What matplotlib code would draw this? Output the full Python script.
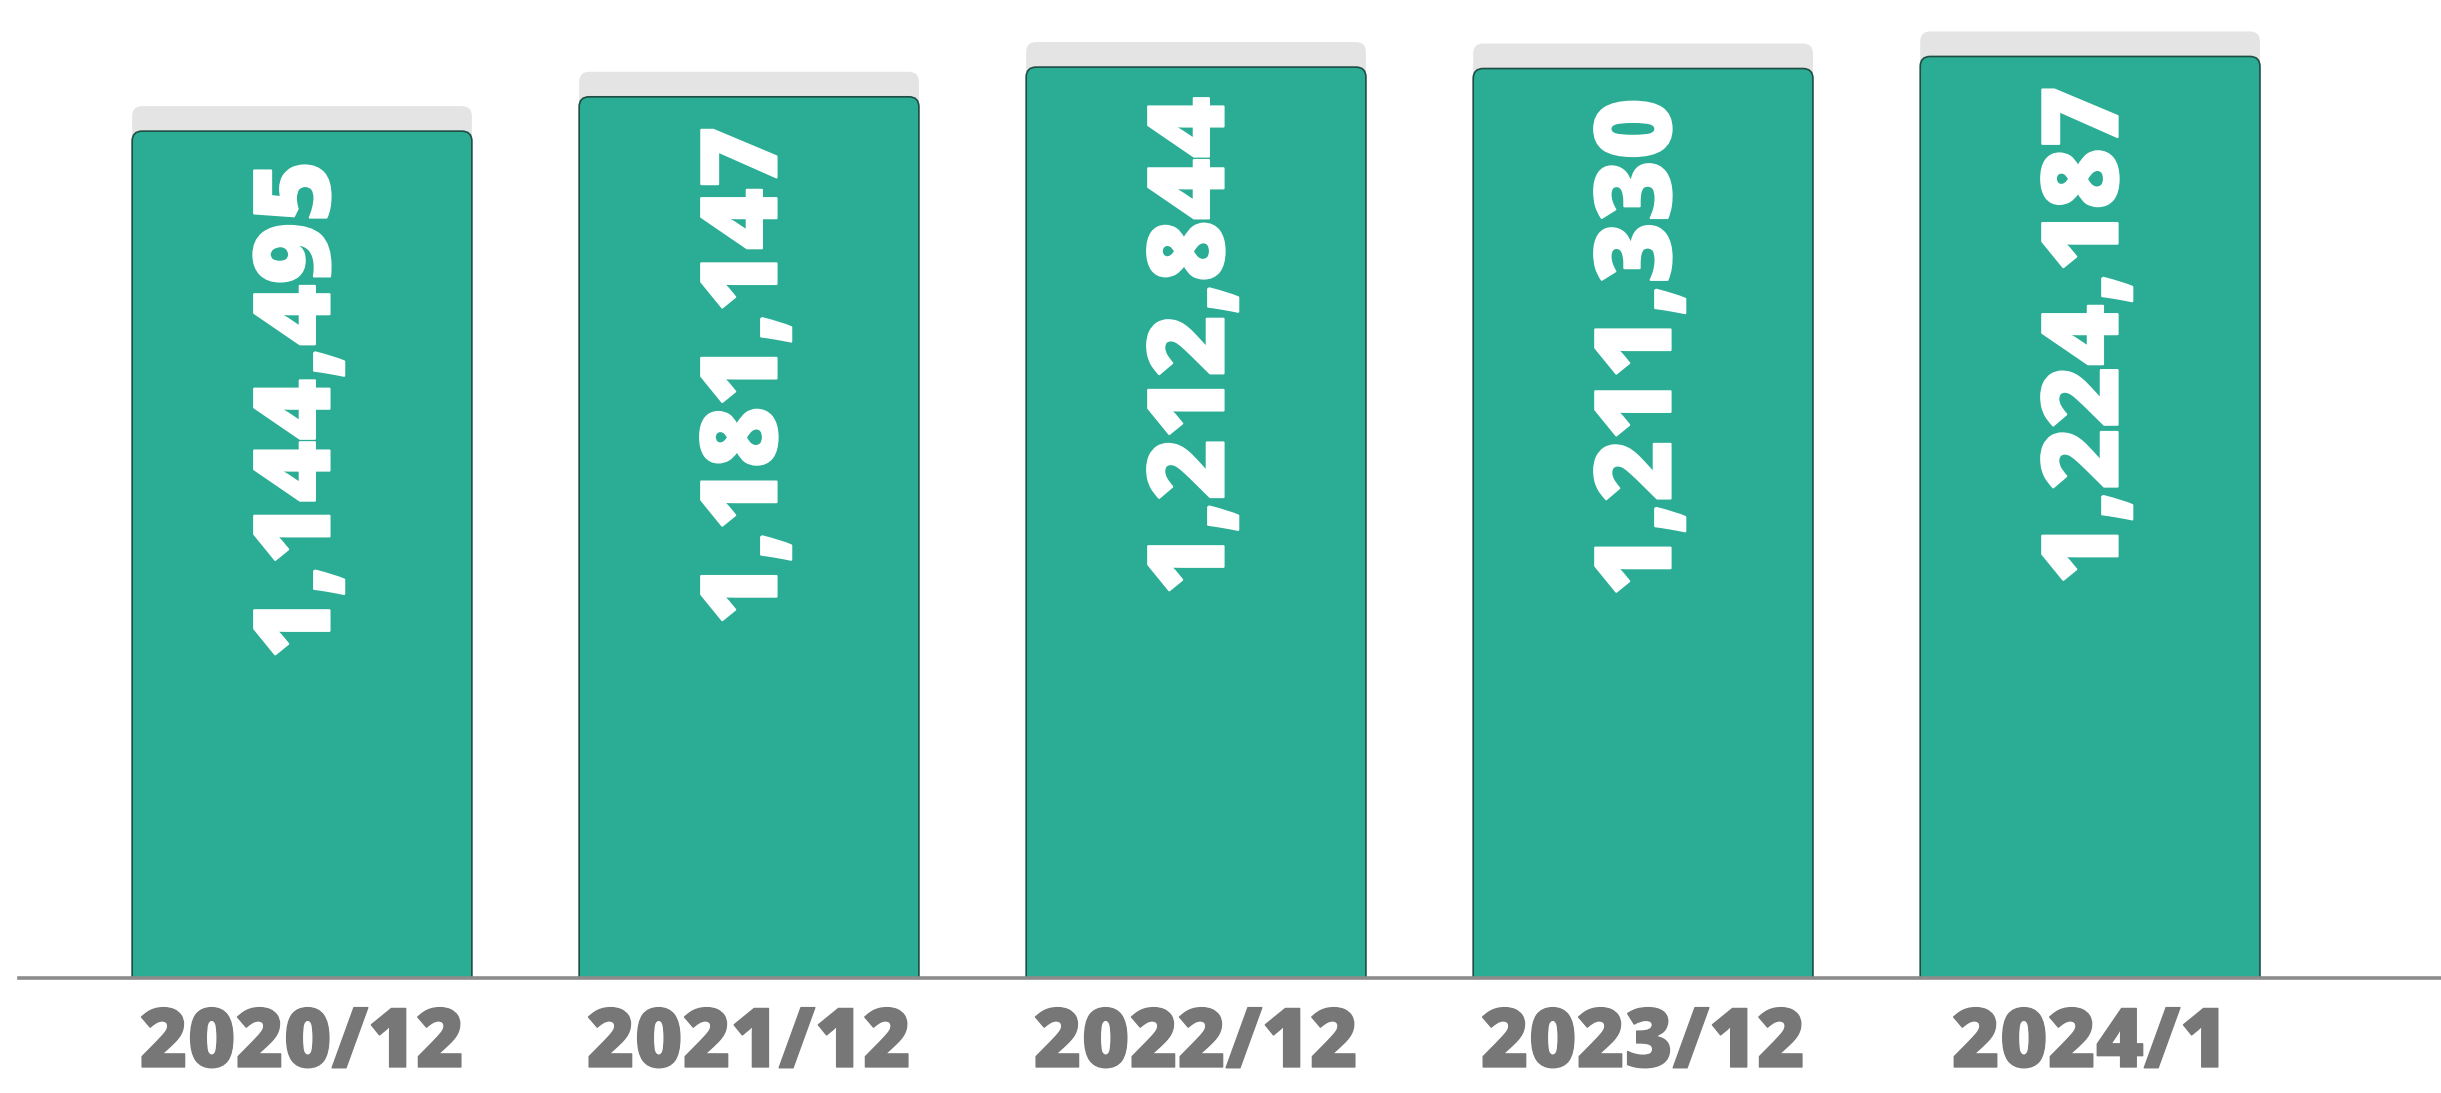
import matplotlib
matplotlib.use("Agg")
import matplotlib.pyplot as plt
import matplotlib.patheffects as pe
from matplotlib.patches import FancyBboxPatch
from matplotlib.transforms import ScaledTranslation
import numpy as np

# ---- data ----
categories = ["2020/12", "2021/12", "2022/12", "2023/12", "2024/1"]
values = [1144495, 1181147, 1212844, 1211330, 1224187]

# ---- style ----
W, H, DPI = 2441, 1093, 100
GREEN = "#2aad94"
EDGE = "#1e4d44"
CAP = "#e4e4e4"
TICK_COLOR = "#777777"
AXIS_COLOR = "#8c8c8c"
FONT = ["Open Sans", "DejaVu Sans"]

fig = plt.figure(figsize=(W / DPI, H / DPI), dpi=DPI)
ax_bottom = 0.1052
ax = fig.add_axes([0, ax_bottom, 1, 1 - ax_bottom])
X_LO, X_HI = -0.6756, 4.785
Y_LO, Y_HI = 240700, 1284460
ax.set_xlim(X_LO, X_HI)
ax.set_ylim(Y_LO, Y_HI)
for s in ax.spines.values():
    s.set_visible(False)
ax.set_yticks([])

px_x = W / (X_HI - X_LO)
px_y = H * (1 - ax_bottom) / (Y_HI - Y_LO)

x = np.arange(len(categories))
bw = 0.76
bottom = Y_LO - 20 / px_y
bars = ax.bar(x, np.array(values) - bottom, bottom=bottom, width=bw,
              color=GREEN, edgecolor=EDGE, linewidth=1.2, zorder=3)

radius_px = 10
r = radius_px / px_x
asp = (radius_px / px_y) / r
cap_tr = ax.transData + ScaledTranslation(0, 25 / DPI, fig.dpi_scale_trans)
for rect in bars:
    bx, by = rect.get_x(), rect.get_y()
    w, h = rect.get_width(), rect.get_height()
    rect.set_visible(False)
    cap = FancyBboxPatch((bx, by), w, h,
                         boxstyle=f"round,pad=0,rounding_size={r}",
                         mutation_aspect=asp, facecolor=CAP, edgecolor="none",
                         transform=cap_tr, zorder=2)
    ax.add_patch(cap)
    body = FancyBboxPatch((bx, by), w, h,
                          boxstyle=f"round,pad=0,rounding_size={r}",
                          mutation_aspect=asp, facecolor=GREEN, edgecolor=EDGE,
                          linewidth=1.2, zorder=3)
    ax.add_patch(body)

for xi, v in zip(x, values):
    ax.annotate(f"{v:,}", xy=(xi, v), xytext=(0, -30 * 72 / DPI),
                textcoords="offset points", rotation=90, ha="center", va="top",
                color="white", fontsize=76, fontweight="heavy", family=FONT,
                zorder=5,
                path_effects=[pe.withStroke(linewidth=1.5, foreground="white")])

ax.axhline(Y_LO, xmin=19 / W, xmax=1, color=AXIS_COLOR, lw=2.6, zorder=4,
           clip_on=False)

ax.set_xticks(x, categories)
ax.tick_params(axis="x", length=0, pad=19.4, labelsize=59,
               labelcolor=TICK_COLOR)
for lbl in ax.get_xticklabels():
    lbl.set_fontweight("heavy")
    lbl.set_family(FONT)
    lbl.set_path_effects([pe.withStroke(linewidth=1, foreground=TICK_COLOR)])

fig.savefig("out.png", dpi=DPI, facecolor="white")
